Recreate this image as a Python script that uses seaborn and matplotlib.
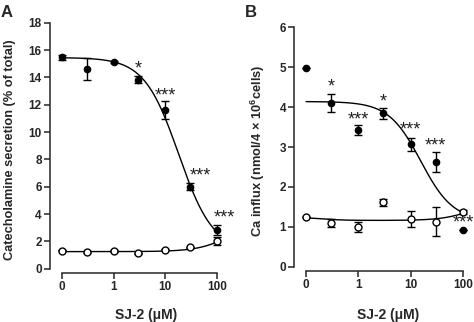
import numpy as np
import pandas as pd
import matplotlib
matplotlib.use("Agg")
import matplotlib.pyplot as plt
import seaborn as sns

# ---------------- data ----------------
conc = [0, 0.3, 1, 3, 10, 30, 100]          # SJ-2 (uM); 0 is drawn at the 0.1 position
zero_pos = 0.1
tick_vals = [0.1, 1, 10, 100]
tick_labels = ["0", "1", "10", "100"]

a_filled = [15.47, 14.59, 15.12, 13.83, 11.61, 6.00, 2.83]
a_filled_err = [0.20, 0.80, 0.08, 0.25, 0.68, 0.25, 0.35]
a_open = [1.32, 1.22, 1.29, 1.12, 1.39, 1.56, 2.05]
a_open_err = [0.05, 0.05, 0.05, 0.05, 0.05, 0.05, 0.30]

b_filled = [4.97, 4.10, 3.43, 3.84, 3.07, 2.63, 0.92]
b_filled_err = [0.0, 0.22, 0.13, 0.14, 0.16, 0.25, 0.0]
b_open = [1.24, 1.09, 0.99, 1.61, 1.19, 1.13, 1.38]
b_open_err = [0.0, 0.10, 0.13, 0.08, 0.20, 0.37, 0.05]

# fitted (Hill) curve parameters: bottom, top, IC50, hill
a_fit_filled = (1.3, 15.45, 18.2, 1.3)
b_fit_filled = (1.15, 4.14, 15.6, 1.41)
# rising curves: base, amplitude, EC50, hill
a_fit_open = (1.25, 3.0, 250.0, 1.3)
b_fit_open = (1.16, 0.5, 150.0, 1.5)
b_open_dip = (0.08, 0.2, 2.0)   # small initial decline: amplitude, x50, hill

# significance marks: (x, y, text)
a_stars = [(3, 14.6, "*"), (10.2, 12.65, "***"), (48, 6.75, "***"), (140, 3.68, "***")]
b_stars = [(0.3, 4.5, "*"), (1, 3.68, "***"), (3, 4.14, "*"), (10, 3.43, "***"),
           (30, 3.03, "***"), (100, 1.09, "***")]

# ---------------- style ----------------
sns.set_style("ticks")
plt.rcParams["font.family"] = ["Liberation Sans", "DejaVu Sans"]
plt.rcParams["font.weight"] = "bold"
plt.rcParams["mathtext.fontset"] = "custom"
plt.rcParams["mathtext.rm"] = "Liberation Sans:bold"
plt.rcParams["mathtext.bf"] = "Liberation Sans:bold"

fig = plt.figure(figsize=(4.74, 3.22), dpi=100)
axA = fig.add_axes([0.1055, 0.1655, 0.3755, 0.764])
axB = fig.add_axes([0.621, 0.1717, 0.375, 0.7435])

xpos = [zero_pos if c == 0 else c for c in conc]
xs = np.logspace(-1, 2, 200)


def hill_down(x, p):
    bottom, top, ic, h = p
    return bottom + (top - bottom) / (1 + (x / ic) ** h)


def hill_up(x, p):
    base, amp, ec, h = p
    return base + amp / (1 + (ec / x) ** h)


def draw(ax, yf, ef, yo, eo, curve_f, curve_o, ymax, stars):
    dfc = pd.DataFrame({"x": np.concatenate([xs, xs]),
                        "y": np.concatenate([curve_f, curve_o]),
                        "s": ["f"] * len(xs) + ["o"] * len(xs)})
    sns.lineplot(data=dfc, x="x", y="y", units="s", estimator=None, color="black",
                 lw=1.0, ax=ax, legend=False, zorder=2)
    ax.errorbar(xpos, yf, yerr=ef, fmt="o", ms=4.5, color="black", mfc="black",
                mec="black", ecolor="black", elinewidth=1.0, capsize=3, capthick=1.0,
                clip_on=False, zorder=3)
    ax.errorbar(xpos, yo, yerr=eo, fmt="o", ms=5.0, color="black", mfc="white",
                mec="black", mew=1.0, ecolor="black", elinewidth=1.0, capsize=3,
                capthick=1.0, clip_on=False, zorder=3)
    for x, y, t in stars:
        ax.text(x, y, t, ha="center", va="center", fontsize=13, fontweight="normal",
                color="#222222", transform=ax.transData)
    ax.set_xscale("log")
    ax.set_ylim(0, ymax)
    ax.set_xticks(tick_vals)
    ax.set_xticklabels(tick_labels)
    ax.xaxis.set_minor_locator(matplotlib.ticker.NullLocator())
    ax.spines["top"].set_visible(False)
    ax.spines["right"].set_visible(False)
    ax.spines["left"].set_bounds(0, ymax)
    ax.spines["bottom"].set_bounds(0.1, 100)
    ax.spines["bottom"].set_position(("outward", 3))
    for s in ("left", "bottom"):
        ax.spines[s].set_linewidth(1.1)
    ax.tick_params(axis="both", labelsize=8.5, width=1.1, length=4, pad=2)
    for lab in ax.get_xticklabels() + ax.get_yticklabels():
        lab.set_fontweight("bold")
    ax.set_xlabel("SJ-2 (μM)", fontsize=10, fontweight="bold")


draw(axA, a_filled, a_filled_err, a_open, a_open_err,
     hill_down(xs, a_fit_filled), hill_up(xs, a_fit_open), 18, a_stars)
axA.set_xlim(0.0577, 165)
axA.set_yticks(range(0, 19, 2))
axA.set_ylabel("Catecholamine secretion (% of total)", fontsize=9.2, fontweight="bold")
axA.yaxis.set_label_coords(-0.191, 0.4825)
axA.xaxis.set_label_coords(0.54, -0.16)

b_curve_o = hill_up(xs, b_fit_open) + b_open_dip[0] / (1 + (xs / b_open_dip[1]) ** b_open_dip[2])
draw(axB, b_filled, b_filled_err, b_open, b_open_err,
     hill_down(xs, b_fit_filled), b_curve_o, 6, b_stars)
axB.set_xlim(0.0597, 149)
axB.set_yticks(range(0, 7))
axB.set_ylabel("Ca influx (nmol/4 × 10$^{6}$cells)", fontsize=9.3, fontweight="bold")
axB.yaxis.set_label_coords(-0.154, 0.483)
axB.xaxis.set_label_coords(0.527, -0.1725)

fig.text(0.002, 0.985, "A", fontsize=12, fontweight="bold", va="top", ha="left")
fig.text(0.516, 0.985, "B", fontsize=12, fontweight="bold", va="top", ha="left")

fig.savefig("out.png", dpi=100)
